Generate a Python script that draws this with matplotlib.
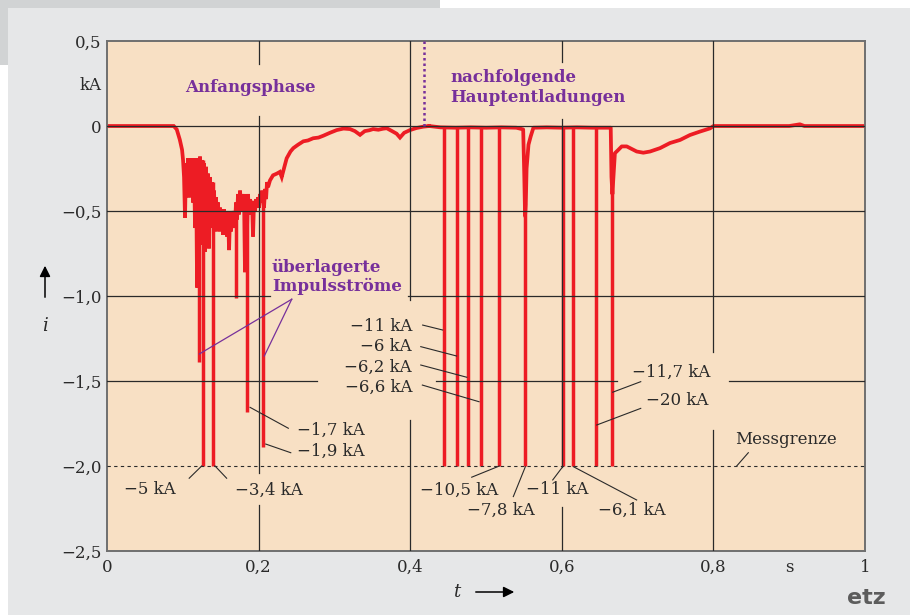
import matplotlib
matplotlib.use("Agg")
import matplotlib.pyplot as plt
from matplotlib.patches import Rectangle

plt.rcParams["font.family"] = ["DejaVu Serif"]

# ---- data (t in s, i in kA) ----------------------------------------------
# initial phase: noisy continuing current
anfang_t = [0.000, 0.088, 0.092, 0.096, 0.099, 0.1003, 0.1016, 0.1029, 0.1042, 0.1055,
            0.1069, 0.1082, 0.1095, 0.1108, 0.1121, 0.1135, 0.1148, 0.1161, 0.1174, 0.1188,
            0.1201, 0.1214, 0.1227, 0.1240, 0.1253, 0.1267, 0.1280, 0.1293, 0.1306, 0.1319,
            0.1332, 0.1345, 0.1359, 0.1372, 0.1385, 0.1398, 0.1412, 0.1425, 0.1438, 0.1451,
            0.1464, 0.1478, 0.1491, 0.1504, 0.1517, 0.1530, 0.1544, 0.1557, 0.1570, 0.1583,
            0.1596, 0.1610, 0.1623, 0.1636, 0.1649, 0.1662, 0.1675, 0.1689, 0.1702, 0.1715,
            0.1728, 0.1741, 0.1755, 0.1768, 0.1781, 0.1794, 0.1807, 0.1820, 0.1834, 0.1847,
            0.1860, 0.1873, 0.1887, 0.1900, 0.1913, 0.1926, 0.1939, 0.1953, 0.1966, 0.1979,
            0.1992, 0.2005, 0.2018, 0.2031, 0.2045, 0.2071, 0.2085, 0.2098, 0.2111, 0.2124,
            0.2150, 0.2190, 0.2240, 0.2280, 0.2305, 0.2340, 0.2370, 0.2420, 0.2458, 0.2520,
            0.2590, 0.2650, 0.2720, 0.2790, 0.2854, 0.2940, 0.3030, 0.3120, 0.3206, 0.3270,
            0.3338, 0.3400, 0.3460, 0.3510, 0.3580, 0.3640, 0.3690, 0.3760, 0.3820, 0.3865,
            0.3920, 0.3997, 0.4080, 0.4170, 0.4250]
anfang_i = [0.000, 0.000, -0.02, -0.08, -0.14, -0.20, -0.30, -0.54, -0.22, -0.40,
            -0.19, -0.42, -0.20, -0.38, -0.19, -0.45, -0.21, -0.60, -0.19, -0.95,
            -0.22, -0.55, -0.18, -0.70, -0.20, -0.45, -0.22, -0.74, -0.24, -0.50,
            -0.28, -0.72, -0.30, -0.55, -0.33, -0.60, -0.38, -0.62, -0.42, -0.58,
            -0.45, -0.62, -0.48, -0.60, -0.50, -0.64, -0.49, -0.60, -0.52, -0.65,
            -0.50, -0.73, -0.52, -0.62, -0.50, -0.60, -0.50, -0.58, -0.45, -0.55,
            -0.40, -0.52, -0.38, -0.50, -0.41, -0.48, -0.40, -0.86, -0.42, -0.60,
            -0.40, -0.52, -0.43, -0.50, -0.44, -0.65, -0.45, -0.50, -0.43, -0.48,
            -0.42, -0.48, -0.40, -0.45, -0.38, -0.48, -0.37, -0.43, -0.33, -0.36,
            -0.32, -0.29, -0.28, -0.27, -0.30, -0.24, -0.19, -0.15, -0.13, -0.11,
            -0.09, -0.085, -0.072, -0.068, -0.057, -0.040, -0.024, -0.015, -0.018, -0.030,
            -0.052, -0.030, -0.025, -0.018, -0.022, -0.016, -0.013, -0.030, -0.045, -0.068,
            -0.040, -0.024, -0.012, -0.004, 0.000]

# subsequent return strokes and the continuing current afterwards
haupt_t = [0.425, 0.440, 0.460, 0.480, 0.500, 0.520, 0.540, 0.5490, 0.5505, 0.5515,
           0.5525, 0.5535, 0.5560, 0.5590, 0.5625, 0.580, 0.600, 0.620, 0.640, 0.6645,
           0.6655, 0.6667, 0.6700, 0.6746, 0.6790, 0.6856, 0.6900, 0.6988, 0.7075, 0.7164,
           0.7296, 0.7427, 0.7560, 0.7690, 0.7820, 0.7955, 0.8000, 0.850, 0.900, 0.914,
           0.920, 0.950, 1.000]
haupt_i = [0.000, -0.008, -0.010, -0.008, -0.010, -0.008, -0.010, -0.020, -0.30, -0.53,
           -0.45, -0.25, -0.11, -0.06, -0.010, -0.008, -0.010, -0.008, -0.010, -0.010,
           -0.30, -0.40, -0.16, -0.14, -0.12, -0.12, -0.13, -0.15, -0.157, -0.15,
           -0.13, -0.10, -0.082, -0.053, -0.033, -0.014, 0.000, 0.000, 0.000, 0.010,
           0.000, 0.000, 0.000]

# impulse currents (clipped at the measuring limit of -2 kA)
spike_t = [0.1218, 0.1271, 0.1394, 0.1702, 0.1851, 0.2062,
           0.4446, 0.4621, 0.4767, 0.4930, 0.5176, 0.5519, 0.6015, 0.6152, 0.6451, 0.6658]
spike_top = [-0.22, -0.20, -0.33, -0.45, -0.42, -0.38,
             -0.01, -0.01, -0.01, -0.01, -0.01, -0.45, -0.01, -0.01, -0.01, -0.30]
spike_min = [-1.39, -2.0, -2.0, -1.01, -1.68, -1.89,
             -2.0, -2.0, -2.0, -2.0, -2.0, -2.0, -2.0, -2.0, -2.0, -2.0]

messgrenze = -2.0

yticks = [0.5, 0.25, 0, -0.5, -1.0, -1.5, -2.0, -2.5]
ytick_labels = ["0,5", "kA", "0", "−0,5", "−1,0", "−1,5", "−2,0", "−2,5"]
xticks = [0, 0.2, 0.4, 0.6, 0.8, 0.9, 1.0]
xtick_labels = ["0", "0,2", "0,4", "0,6", "0,8", "s", "1"]

# peak labels: text, text pos, ha, leader start, leader end
peak_labels = [
    ("−11 kA", (0.4024, -1.182), "right", (0.4164, -1.171), (0.4427, -1.200)),
    ("−6 kA", (0.4024, -1.300), "right", (0.4139, -1.298), (0.4612, -1.353)),
    ("−6,2 kA", (0.4024, -1.418), "right", (0.4139, -1.406), (0.4746, -1.478)),
    ("−6,6 kA", (0.4024, -1.535), "right", (0.4160, -1.524), (0.4908, -1.622)),
    ("−1,7 kA", (0.2507, -1.788), "left", (0.1887, -1.655), (0.2392, -1.778)),
    ("−1,9 kA", (0.2507, -1.912), "left", (0.2094, -1.871), (0.2424, -1.922)),
    ("−5 kA", (0.0567, -2.141), "center", (0.1249, -2.000), (0.1084, -2.072)),
    ("−3,4 kA", (0.2137, -2.141), "center", (0.1425, -2.000), (0.1578, -2.072)),
    ("−10,5 kA", (0.4644, -2.141), "center", (0.5176, -2.000), (0.4811, -2.066)),
    ("−7,8 kA", (0.5198, -2.259), "center", (0.5519, -2.004), (0.5360, -2.180)),
    ("−11 kA", (0.5937, -2.141), "center", (0.6012, -2.004), (0.5880, -2.082)),
    ("−6,1 kA", (0.6926, -2.259), "center", (0.6152, -2.004), (0.6987, -2.200)),
    ("−11,7 kA", (0.6926, -1.447), "left", (0.7041, -1.504), (0.6671, -1.566)),
    ("−20 kA", (0.7111, -1.612), "left", (0.7041, -1.661), (0.6460, -1.759)),
    ("Messgrenze", (0.8285, -1.847), "left", (0.8460, -1.922), (0.8307, -2.000)),
]

# grid segments, broken where text sits
vgrid = [(0.2, 0.5, 0.365), (0.2, 0.059, -2.04), (0.2, -2.23, -2.5),
         (0.4, 0.5, -1.024), (0.4, -1.73, -2.5),
         (0.6, 0.5, 0.376), (0.6, 0.041, -2.006), (0.6, -2.24, -2.5),
         (0.8, 0.5, -1.33), (0.8, -1.79, -2.5)]
hgrid = [(0.0, 0.0, 1.0), (-0.5, 0.0, 1.0),
         (-1.0, 0.0, 0.215), (-1.0, 0.397, 1.0),
         (-1.5, 0.0, 0.277), (-1.5, 0.434, 0.673), (-1.5, 0.821, 1.0)]

RED = "#ED1C24"
PURPLE = "#77309B"
INK = "#2a2a2a"
PEACH = "#F8E0C4"

fig = plt.figure(figsize=(9.1, 6.15), dpi=100, facecolor="white")
fig.patches.append(Rectangle((0, 0.8943), 0.4835, 0.1057, transform=fig.transFigure,
                             facecolor="#D1D3D4", edgecolor="none", zorder=-2))
fig.patches.append(Rectangle((0.0088, 0), 0.9912, 0.987, transform=fig.transFigure,
                             facecolor="#E6E7E8", edgecolor="none", zorder=-1))

ax = fig.add_axes([0.1176, 0.1041, 0.8330, 0.8292])
ax.set_facecolor(PEACH)
ax.set_xlim(0, 1)
ax.set_ylim(-2.5, 0.5)

# trace
ax.plot(anfang_t, anfang_i, color=RED, lw=2.7, solid_joinstyle="miter", zorder=2)
ax.plot(haupt_t, haupt_i, color=RED, lw=2.7, zorder=2)
ax.vlines(spike_t, spike_min, spike_top, color=RED, lw=2.5, zorder=2)

# grid
for x, y0, y1 in vgrid:
    ax.plot([x, x], [y0, y1], color=INK, lw=0.9, zorder=3)
for y, x0, x1 in hgrid:
    ax.plot([x0, x1], [y, y], color=INK, lw=0.9, zorder=3)
ax.axhline(messgrenze, color=INK, lw=0.8, linestyle=(0, (3, 3)), zorder=3)

for sp in ax.spines.values():
    sp.set_color("#6f6f6f")
    sp.set_linewidth(1.4)

ax.set_yticks(yticks)
ax.set_yticklabels(ytick_labels)
ax.set_xticks(xticks)
ax.set_xticklabels(xtick_labels)
ax.tick_params(length=0, labelsize=12, colors=INK, pad=4)
ax.tick_params(axis="x", pad=6)

# peak labels
for txt, (tx, ty), ha, (lx0, ly0), (lx1, ly1) in peak_labels:
    ax.text(tx, ty, txt, ha=ha, va="center", fontsize=12, color=INK, zorder=5)
    ax.plot([lx0, lx1], [ly0, ly1], color=INK, lw=0.8, zorder=4)

# phase labels
ax.text(0.1887, 0.229, "Anfangsphase", ha="center", va="center", fontsize=12,
        fontweight="bold", color=PURPLE)
ax.text(0.2177, -0.888, "überlagerte\nImpulsströme", ha="left", va="center",
        fontsize=12, fontweight="bold", color=PURPLE, linespacing=1.15)
ax.text(0.4525, 0.226, "nachfolgende\nHauptentladungen", ha="left", va="center",
        fontsize=12, fontweight="bold", color=PURPLE, linespacing=1.2)
ax.plot([0.2437, 0.1218], [-1.019, -1.341], color=PURPLE, lw=0.9, zorder=4)
ax.plot([0.2437, 0.2075], [-1.019, -1.353], color=PURPLE, lw=0.9, zorder=4)
ax.plot([0.4186, 0.4186], [0.5, 0.0], color=PURPLE, lw=1.8,
        linestyle=(0, (1, 1.2)), zorder=4)

# axis labels with arrows (figure pixels)
ax.annotate("", xy=(45, 352), xytext=(45, 315), xycoords="figure pixels",
            textcoords="figure pixels",
            arrowprops=dict(arrowstyle="-|>", color="black", lw=1.1, mutation_scale=16))
fig.text(45 / 910, 289 / 615, "i", ha="center", va="center", fontsize=13,
         style="italic", color=INK)
fig.text(457 / 910, 23 / 615, "t", ha="center", va="center", fontsize=13,
         style="italic", color=INK)
ax.annotate("", xy=(517, 23), xytext=(473, 23), xycoords="figure pixels",
            textcoords="figure pixels",
            arrowprops=dict(arrowstyle="-|>", color="black", lw=1.1, mutation_scale=16))

fig.text(0.973, 0.012, "etz", ha="right", va="bottom", fontsize=16,
         fontweight="heavy", color="#5c5c5c", family="DejaVu Sans")

fig.savefig("out.png", dpi=100)
